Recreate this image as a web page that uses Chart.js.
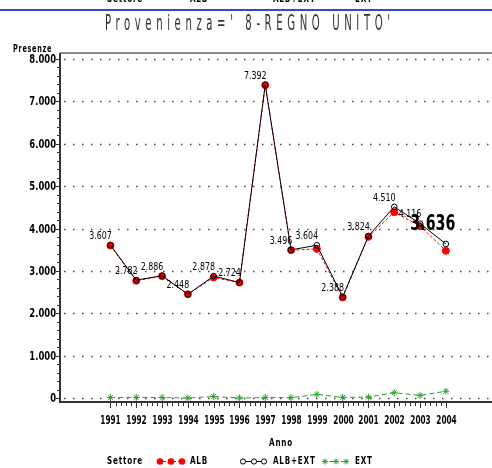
<!DOCTYPE html>
<html>
<head>
<meta charset="utf-8">
<script src="https://cdn.jsdelivr.net/npm/chart.js@4.4.1/dist/chart.umd.min.js"></script>
<style>
html, body { margin: 0; padding: 0; overflow: hidden; background: #fff; width: 492px; height: 468px; }
#wrap { position: relative; width: 520px; height: 468px; }
</style>
</head>
<body>
<div id="wrap"><canvas id="myChart" width="520" height="468"></canvas></div>
<script>
// Chart data
const years = [1991, 1992, 1993, 1994, 1995, 1996, 1997, 1998, 1999, 2000, 2001, 2002, 2003, 2004];
const albExt = [3607, 2782, 2886, 2448, 2878, 2724, 7392, 3496, 3604, 2388, 3824, 4510, 4116, 3636];
const alb = [3597, 2767, 2874, 2448, 2843, 2724, 7382, 3488, 3519, 2373, 3804, 4385, 4056, 3476];
const ext = [10, 15, 12, 0, 35, 0, 10, 8, 85, 15, 20, 125, 60, 160];
const yTicks = [0, 1000, 2000, 3000, 4000, 5000, 6000, 7000, 8000];

const titleText = "Provenienza=' 8-REGNO UNITO'";
const FAM = '"DejaVu Sans Condensed", "DejaVu Sans", sans-serif';
const GREEN = '#2e9e2e';

// 8000 -> "8.000"
function fmt(v) {
    return String(v).replace(/\B(?=(\d{3})+(?!\d))/g, '.');
}

function toPoints(values) {
    return years.map((y, i) => ({ x: y, y: values[i] }));
}

// text squeezed horizontally by sx, anchored left / center / right at x
function drawSq(ctx, text, x, y, font, sx, align) {
    ctx.save();
    ctx.font = font;
    ctx.textAlign = 'left';
    ctx.textBaseline = 'middle';
    const w = ctx.measureText(text).width * sx;
    let x0 = x;
    if (align === 'center') x0 = x - w / 2;
    if (align === 'right') x0 = x - w;
    ctx.translate(x0, y);
    ctx.scale(sx, 1);
    ctx.fillText(text, 0, 0);
    ctx.restore();
}

const decor = {
    id: 'decor',
    beforeDatasetsDraw(chart) {
        const ctx = chart.ctx;
        const area = chart.chartArea;
        const xs = chart.scales.x;
        const ys = chart.scales.y;
        ctx.save();

        // dotted grid lines
        ctx.strokeStyle = '#444';
        ctx.lineWidth = 1.5;
        ctx.setLineDash([1.5, 7.5]);
        yTicks.forEach(v => {
            const y = Math.round(ys.getPixelForValue(v)) + 0.5;
            ctx.beginPath();
            ctx.moveTo(area.left + 4, y);
            ctx.lineTo(area.right, y);
            ctx.stroke();
        });
        ctx.setLineDash([]);

        // frame
        ctx.strokeStyle = '#666';
        ctx.lineWidth = 1.5;
        ctx.beginPath();
        ctx.moveTo(area.left, area.top);
        ctx.lineTo(area.right, area.top);
        ctx.stroke();
        ctx.strokeStyle = '#333';
        ctx.lineWidth = 2;
        ctx.beginPath();
        ctx.moveTo(area.left, area.top);
        ctx.lineTo(area.left, area.bottom);
        ctx.lineTo(area.right, area.bottom);
        ctx.stroke();

        // y ticks, major and minor, with labels
        ctx.lineWidth = 1;
        ctx.fillStyle = '#000';
        for (let i = 0; i < yTicks.length; i++) {
            const y = Math.round(ys.getPixelForValue(yTicks[i])) + 0.5;
            ctx.beginPath();
            ctx.moveTo(area.left - 4, y);
            ctx.lineTo(area.left, y);
            ctx.stroke();
            drawSq(ctx, fmt(yTicks[i]), area.left - 4, y, 'bold 12px ' + FAM, 0.78, 'right');
            if (i < yTicks.length - 1) {
                for (let k = 1; k < 5; k++) {
                    const ym = Math.round(ys.getPixelForValue(yTicks[i] + k * 200)) + 0.5;
                    ctx.beginPath();
                    ctx.moveTo(area.left - 3, ym);
                    ctx.lineTo(area.left, ym);
                    ctx.stroke();
                }
            }
        }

        // x ticks, major and minor, with labels
        for (let i = 0; i < years.length; i++) {
            const x = Math.round(xs.getPixelForValue(years[i])) + 0.5;
            ctx.beginPath();
            ctx.moveTo(x, area.bottom);
            ctx.lineTo(x, area.bottom + 6);
            ctx.stroke();
            drawSq(ctx, String(years[i]), x, 421, 'bold 12px ' + FAM, 0.68, 'center');
            if (i < years.length - 1) {
                for (let k = 1; k < 5; k++) {
                    const xm = Math.round(xs.getPixelForValue(years[i] + k * 0.2)) + 0.5;
                    ctx.beginPath();
                    ctx.moveTo(xm, area.bottom);
                    ctx.lineTo(xm, area.bottom + 4);
                    ctx.stroke();
                }
            }
        }
        ctx.restore();
    },
    afterDatasetsDraw(chart) {
        const ctx = chart.ctx;
        const meta = chart.getDatasetMeta(0);
        ctx.save();

        // value labels on ALB+EXT
        ctx.fillStyle = '#000';
        meta.data.forEach((pt, i) => {
            if (i === years.length - 1) return;
            drawSq(ctx, fmt(albExt[i]), pt.x - 10, pt.y - 9, '11px ' + FAM, 0.8, 'center');
        });
        const last = meta.data[years.length - 1];
        drawSq(ctx, fmt(albExt[years.length - 1]), last.x - 13, last.y - 20, 'bold 22px ' + FAM, 0.72, 'center');

        // title
        ctx.fillStyle = '#333';
        ctx.font = '22px ' + FAM;
        ctx.letterSpacing = '9px';
        const tw = ctx.measureText(titleText).width - 9;
        drawSq(ctx, titleText, 105, 24, '22px ' + FAM, 285 / tw, 'left');
        ctx.letterSpacing = '0px';

        // axis titles
        ctx.fillStyle = '#000';
        ctx.letterSpacing = '1px';
        const small = 'bold 10px ' + FAM;
        drawSq(ctx, 'Presenze', 13, 49, small, 0.72, 'left');
        drawSq(ctx, 'Anno', 281, 443, small, 0.8, 'center');

        // legend (bottom) and the cut one at the top
        [461, -1].forEach(ly => {
            drawSq(ctx, 'Settore', 107, ly, small, 0.8, 'left');
            drawSq(ctx, 'ALB', 190, ly, small, 0.8, 'left');
            drawSq(ctx, 'ALB+EXT', 273, ly, small, 0.8, 'left');
            drawSq(ctx, 'EXT', 355, ly, small, 0.8, 'left');
        });
        ctx.letterSpacing = '0px';

        // legend symbols
        ctx.lineWidth = 1;
        ctx.strokeStyle = '#f00';
        ctx.setLineDash([3, 2]);
        ctx.beginPath(); ctx.moveTo(158, 461.5); ctx.lineTo(184, 461.5); ctx.stroke();
        ctx.setLineDash([]);
        ctx.fillStyle = '#f00';
        [160, 171, 182].forEach(x => { ctx.beginPath(); ctx.arc(x, 461.5, 3.3, 0, Math.PI * 2); ctx.fill(); });

        ctx.strokeStyle = '#000';
        ctx.beginPath(); ctx.moveTo(240, 461.5); ctx.lineTo(266, 461.5); ctx.stroke();
        ctx.fillStyle = '#fff';
        [243, 254, 264].forEach(x => { ctx.beginPath(); ctx.arc(x, 461.5, 2.6, 0, Math.PI * 2); ctx.fill(); ctx.stroke(); });

        ctx.strokeStyle = GREEN;
        ctx.setLineDash([4, 2]);
        ctx.beginPath(); ctx.moveTo(323, 461.5); ctx.lineTo(349, 461.5); ctx.stroke();
        ctx.setLineDash([]);
        [325, 336, 346].forEach(x => {
            ctx.beginPath();
            ctx.moveTo(x - 3, 461.5); ctx.lineTo(x + 3, 461.5);
            ctx.moveTo(x, 458.5); ctx.lineTo(x, 464.5);
            ctx.moveTo(x - 2.2, 459.3); ctx.lineTo(x + 2.2, 463.7);
            ctx.moveTo(x + 2.2, 459.3); ctx.lineTo(x - 2.2, 463.7);
            ctx.stroke();
        });

        // blue separator at the top
        ctx.strokeStyle = '#3344dd';
        ctx.lineWidth = 2;
        ctx.beginPath(); ctx.moveTo(0, 10); ctx.lineTo(520, 10); ctx.stroke();
        ctx.restore();
    }
};

const ctx = document.getElementById('myChart').getContext('2d');
const myChart = new Chart(ctx, {
    type: 'line',
    data: {
        datasets: [
            {
                label: 'ALB+EXT',
                data: toPoints(albExt),
                borderColor: '#000',
                borderWidth: 1,
                pointRadius: 2.8,
                pointBackgroundColor: 'rgba(0,0,0,0)',
                pointBorderColor: '#000',
                pointBorderWidth: 1,
                order: 0
            },
            {
                label: 'ALB',
                data: toPoints(alb),
                borderColor: '#f00',
                borderWidth: 1,
                borderDash: [3, 2],
                pointRadius: 3.5,
                pointBackgroundColor: '#f00',
                pointBorderColor: '#f00',
                order: 1
            },
            {
                label: 'EXT',
                data: toPoints(ext),
                borderColor: GREEN,
                borderWidth: 1,
                borderDash: [5, 3],
                pointStyle: 'star',
                pointRadius: 3.5,
                pointBorderColor: GREEN,
                pointBorderWidth: 1,
                order: 2
            }
        ]
    },
    options: {
        responsive: false,
        animation: false,
        layout: { padding: { top: 53, left: 0, right: 0, bottom: 0 } },
        plugins: {
            legend: { display: false },
            tooltip: { enabled: false }
        },
        scales: {
            x: {
                type: 'linear',
                min: 1989.044,
                max: 2006.68,
                afterFit: s => { s.height = 66; },
                afterBuildTicks: s => { s.ticks = years.map(v => ({ value: v })); },
                grid: { display: false, drawTicks: false },
                border: { display: false },
                ticks: { display: false }
            },
            y: {
                min: -94.4,
                max: 8141.6,
                afterFit: s => { s.width = 60; },
                afterBuildTicks: s => { s.ticks = yTicks.map(v => ({ value: v })); },
                grid: { display: false, drawTicks: false },
                border: { display: false },
                ticks: { display: false }
            }
        }
    },
    plugins: [decor]
});
</script>
</body>
</html>
